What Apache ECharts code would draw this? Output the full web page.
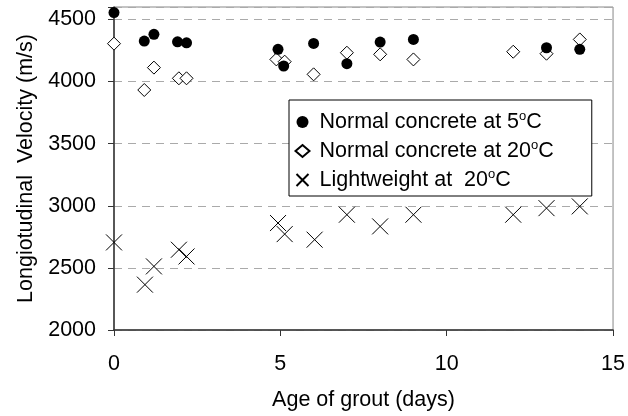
<!DOCTYPE html>
<html>
<head>
<meta charset="utf-8">
<script src="https://cdn.jsdelivr.net/npm/echarts@6/dist/echarts.min.js"></script>
<style>html,body{margin:0;padding:0;background:#fff}#c{width:628px;height:416px}</style>
</head>
<body>
<div id="c"></div>
<script>
var xTicks = [0, 5, 10, 15];
var yTicks = [2000, 2500, 3000, 3500, 4000, 4500];

var seriesNames = ['Normal concrete at 5°C', 'Normal concrete at 20°C', 'Lightweight at  20°C'];

var normal5Days = [0, 0.91, 1.2, 1.91, 2.18, 4.93, 5.1, 6, 7, 8, 9, 13, 14];
var normal5Vel  = [4555, 4326, 4380, 4320, 4312, 4259, 4125, 4307, 4144, 4318, 4339, 4272, 4259];

var normal20Days = [0, 0.91, 1.2, 1.95, 2.18, 4.88, 5.13, 6, 7, 8, 9, 12, 13, 14];
var normal20Vel  = [4305, 3932, 4112, 4026, 4026, 4178, 4160, 4058, 4232, 4219, 4178, 4240, 4224, 4339];

var lightDays = [0, 0.93, 1.2, 1.95, 2.18, 4.93, 5.13, 6.03, 7, 8, 9, 12, 13, 14];
var lightVel  = [2705, 2365, 2512, 2646, 2592, 2861, 2772, 2727, 2928, 2834, 2928, 2928, 2981, 2995];

function pairs(xs, ys) { return xs.map(function (x, i) { return [x, ys[i]]; }); }

var FONT = 'Liberation Sans';
var FS = 21.5;
var chart = echarts.init(document.getElementById('c'), null, { renderer: 'canvas' });

chart.setOption({
  animation: false,
  backgroundColor: '#fff',
  textStyle: { fontFamily: FONT },
  grid: { left: 114, right: 14, top: 7, bottom: 85, show: true, borderColor: '#888', borderWidth: 1, backgroundColor: 'transparent' },
  xAxis: {
    type: 'value', min: 0, max: 15, interval: 5,
    name: 'Age of grout (days)', nameLocation: 'middle', nameGap: 59,
    nameTextStyle: { fontFamily: FONT, fontSize: FS, color: '#000' },
    axisLine: { show: true, lineStyle: { color: '#333', width: 1.5 } },
    axisTick: { show: true, inside: false, length: 6, lineStyle: { color: '#333' } },
    axisLabel: { fontFamily: FONT, fontSize: FS, color: '#000', margin: 23 },
    splitLine: { show: false }
  },
  yAxis: {
    type: 'value', min: 2000, max: 4600, interval: 500,
    name: 'Longiotudinal  Velocity (m/s)', nameLocation: 'middle', nameGap: 75,
    nameTextStyle: { fontFamily: FONT, fontSize: FS, color: '#000' },
    axisLine: { show: true, lineStyle: { color: '#333', width: 1.5 } },
    axisTick: { show: true, inside: false, length: 6, lineStyle: { color: '#333' } },
    axisLabel: { fontFamily: FONT, fontSize: FS, color: '#000', margin: 18,
      formatter: function (v) { return yTicks.indexOf(v) >= 0 ? String(v) : ''; } },
    splitLine: { show: true, lineStyle: { color: '#aaa', type: [8, 6], width: 1 } }
  },
  legend: {
    orient: 'vertical', left: 289, top: 100,
    backgroundColor: '#fff', borderColor: '#000', borderWidth: 1,
    padding: [10, 38, 5, 5], itemGap: 6, itemWidth: 14, itemHeight: 12,
    data: [
      { name: seriesNames[0] },
      { name: seriesNames[1] },
      { name: seriesNames[2] }
    ],
    formatter: function (name) {
      var m = name.match(/^(.*)°C$/);
      return '{t|' + m[1] + '}{s|o}{t|C}';
    },
    textStyle: {
      fontFamily: FONT, fontSize: FS, color: '#000', padding: [0, 0, 0, 5],
      rich: {
        t: { fontFamily: FONT, fontSize: FS, color: '#000', lineHeight: 24, verticalAlign: 'middle' },
        s: { fontFamily: FONT, fontSize: 13, color: '#000', lineHeight: 13, verticalAlign: 'top' }
      }
    }
  },
  series: [
    {
      name: seriesNames[0], type: 'scatter', symbol: 'circle', symbolSize: 11,
      itemStyle: { color: '#000', opacity: 1 }, z: 3,
      data: pairs(normal5Days, normal5Vel)
    },
    {
      name: seriesNames[1], type: 'scatter', symbol: 'diamond', symbolSize: [13, 13],
      itemStyle: { color: '#fff', borderColor: '#000', borderWidth: 1, opacity: 1 }, z: 2,
      data: pairs(normal20Days, normal20Vel)
    },
    {
      name: seriesNames[2], type: 'scatter', symbol: 'path://M0,0L10,10M10,0L0,10', symbolSize: 16,
      itemStyle: { color: 'none', borderColor: '#000', borderWidth: 1, opacity: 1 }, z: 2,
      data: pairs(lightDays, lightVel)
    }
  ]
});
</script>
</body>
</html>
